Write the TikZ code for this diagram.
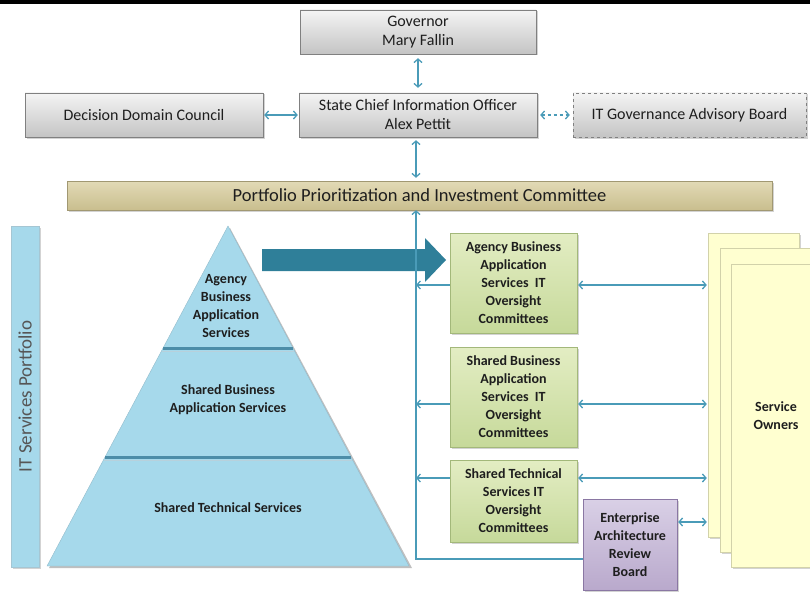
\documentclass[tikz,border=0pt]{standalone}
\usepackage{fontspec}
\setmainfont{Carlito}
\usepackage{tikz}
\usetikzlibrary{arrows.meta,shadows}
\definecolor{linkblue}{HTML}{4A9BB8}
\definecolor{greytop}{HTML}{F4F4F4}
\definecolor{greybot}{HTML}{C4C4C4}
\definecolor{greyline}{HTML}{808080}
\definecolor{ppictop}{HTML}{E2DAB6}
\definecolor{ppicbot}{HTML}{C9BE8E}
\definecolor{pyrblue}{HTML}{A6D9EB}
\definecolor{pyrline}{HTML}{4C8DA8}
\definecolor{bigarrow}{HTML}{2F7F99}
\definecolor{greentop}{HTML}{E3EDC3}
\definecolor{greenbot}{HTML}{C6D99A}
\definecolor{greenline}{HTML}{A3B87A}
\definecolor{purpletop}{HTML}{D9D0E6}
\definecolor{purplebot}{HTML}{B9A9CC}
\definecolor{purpleline}{HTML}{8A77A3}
\definecolor{pagefill}{HTML}{FFFFD0}
\definecolor{pageline}{HTML}{D2D2AA}
\definecolor{inktext}{HTML}{1E1E1E}
\tikzset{>={Straight Barb[length=3.5pt,width=8pt]}}
\tikzstyle{arrow}  = [<->,
                      linkblue,
                      line width=1.3pt,
                      shorten <=1pt,
                      shorten >=1pt]
\tikzstyle{oneway} = [->,
                      linkblue,
                      line width=1.3pt]
\tikzstyle{shadowed} = [drop shadow={opacity=0.35,
                        shadow xshift=1.5pt,
                        shadow yshift=-1.5pt}]
\tikzstyle{govbox} = [rectangle,
                      shadowed,
                      draw=greyline,
                      top color=greytop,
                      bottom color=greybot,
                      text=inktext,
                      align=center,
                      inner sep=0pt,
                      font=\fontsize{16}{19}\selectfont]
\tikzstyle{greenbox} = [rectangle,
                        shadowed,
                        draw=greenline,
                        top color=greentop,
                        bottom color=greenbot,
                        text=inktext,
                        align=center,
                        inner sep=0pt,
                        minimum width=127pt,
                        font=\bfseries\fontsize{14}{18}\selectfont]
\tikzstyle{tierlabel} = [text=inktext,
                         align=center,
                         font=\bfseries\fontsize{14}{18}\selectfont]
\tikzstyle{pagebox} = [rectangle,
                       shadowed,
                       draw=pageline,
                       fill=pagefill,
                       inner sep=0pt]

\begin{document}
\begin{tikzpicture}[x=1pt,y=-1pt]
  \useasboundingbox (0,0) rectangle (810,591);
  \fill[black] (0,0) rectangle (810,4);

  % Nodes
  \node[govbox, minimum width=236pt, minimum height=44pt] (gov) at (418,32)
    {Governor\\Mary Fallin};
  \node[govbox, minimum width=238pt, minimum height=44pt] (cio) at (418,115)
    {State Chief Information Officer\\Alex Pettit};
  \node[govbox, minimum width=238pt, minimum height=44pt] (ddc) at (144,115)
    {Decision Domain Council};
  \node[govbox, dashed, minimum width=233pt, minimum height=44pt] (itgab) at (689.5,115)
    {IT Governance Advisory Board};

  \node[rectangle, shadowed, draw=ppicbot!80!black, top color=ppictop, bottom color=ppicbot,
    minimum width=705pt, minimum height=29pt, inner sep=0pt, text=inktext,
    font=\fontsize{18.5}{22}\selectfont] (ppic) at (419.5,195.5)
    {Portfolio Prioritization and Investment Committee};

  \node[rectangle, shadowed, draw=pyrline!50, fill=pyrblue, minimum width=28pt,
    minimum height=341pt, inner sep=0pt] (itsp) at (25,396.5) {};
  \node[rotate=90, text=inktext!75, font=\fontsize{19}{22}\selectfont] (itsplabel)
    at (itsp.center) {IT Services Portfolio};

  % Pyramid
  \fill[black, opacity=0.25] (230,228) -- (412,568) -- (49,568) -- cycle;
  \draw[pyrline!60, fill=pyrblue] (228,226) -- (409,566) -- (47,566) -- cycle;
  \draw[pyrline, line width=3pt] (163,348) -- (293,348);
  \draw[pyrline, line width=3pt] (105,457) -- (351,457);
  \draw[pyrline!40, line width=1pt] (162,351) -- (294,351);
  \draw[pyrline!40, line width=1pt] (104,460) -- (352,460);
  \node[tierlabel] (tierA) at (226,306) {Agency\\Business\\Application\\Services};
  \node[tierlabel] (tierB) at (228,400) {Shared Business\\Application Services};
  \node[tierlabel] (tierC) at (228,508) {Shared Technical Services};

  \fill[bigarrow] (262,249) -- (425,249) -- (425,238) -- (446,260)
    -- (425,282) -- (425,271) -- (262,271) -- cycle;

  \node[greenbox, minimum height=100pt] (abas) at (513.5,283)
    {Agency Business\\Application\\Services~ IT\\Oversight\\Committees};
  \node[greenbox, minimum height=100pt] (sbas) at (513.5,397)
    {Shared Business\\Application\\Services~ IT\\Oversight\\Committees};
  \node[greenbox, minimum height=82pt] (stsc) at (513.5,501)
    {Shared Technical\\Services IT\\Oversight\\Committees};
  \node[rectangle, shadowed, draw=purpleline, top color=purpletop, bottom color=purplebot,
    minimum width=94pt, minimum height=91pt, inner sep=0pt, text=inktext, align=center,
    font=\bfseries\fontsize{14}{18}\selectfont] (earb) at (630,544.5)
    {Enterprise\\Architecture\\Review\\Board};

  \node[pagebox, minimum width=91pt, minimum height=304pt] (owners1) at (753.5,385) {};
  \node[pagebox, minimum width=90pt, minimum height=304pt] (owners2) at (765,400) {};
  \node[pagebox, minimum width=96pt, minimum height=303pt] (owners3) at (779,415.5) {};
  \node[tierlabel] (ownerslabel) at (776,416) {Service\\Owners};

  % Edges
  \draw[arrow, shorten <=4pt, shorten >=5pt] (gov) -- (cio);
  \draw[arrow] (ddc) -- (cio);
  \draw[arrow, dashed, shorten <=3pt, shorten >=3pt] (cio) -- (itgab);
  \draw[arrow, shorten <=3pt, shorten >=3pt] (cio.south -| 416,0) -- (ppic.north -| 416,0);

  \coordinate (spinebot) at (416,559);
  \draw[oneway, <-] (ppic.south -| spinebot) -- (spinebot) -- (spinebot -| earb.west);
  \draw[oneway] (abas.west |- 0,285) -- (spinebot |- 0,285);
  \draw[oneway] (sbas.west |- 0,404) -- (spinebot |- 0,404);
  \draw[oneway] (stsc.west |- 0,478) -- (spinebot |- 0,478);

  \draw[arrow] (abas.east |- 0,285) -- (owners1.west |- 0,285);
  \draw[arrow] (sbas.east |- 0,404) -- (owners1.west |- 0,404);
  \draw[arrow] (stsc.east |- 0,478) -- (owners1.west |- 0,478);
  \draw[arrow] (earb.east |- 0,522) -- (owners1.west |- 0,522);

\end{tikzpicture}
\end{document}
